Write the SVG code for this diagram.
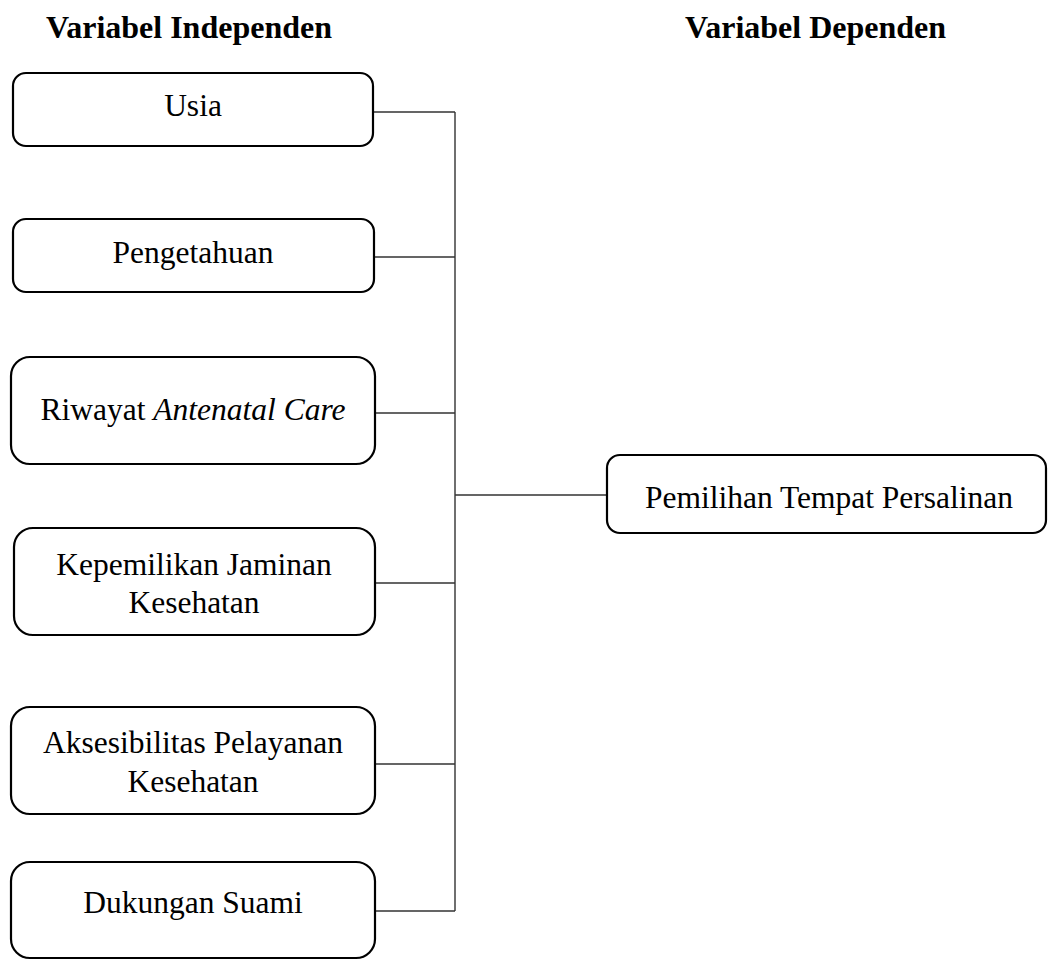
<svg xmlns="http://www.w3.org/2000/svg" width="1048" height="960" viewBox="0 0 1048 960">
<style>
.box{fill:#fff;stroke:#000;stroke-width:2.2}
.t{font-family:"Liberation Serif","Times New Roman",serif;font-size:31.5px;fill:#000;text-anchor:middle}
.h{font-family:"Liberation Serif","Times New Roman",serif;font-size:32px;font-weight:bold;fill:#000}
.c{fill:none;stroke:#333;stroke-width:1.4}
</style>
<rect width="1048" height="960" fill="#fff"/>
<text class="h" x="46" y="38">Variabel Independen</text>
<text class="h" x="685" y="38">Variabel Dependen</text>
<g id="connectors">
<path class="c" d="M374 112H455M374 257H455M375 413H455M375 583H455M375 764H455M375 911H455M455 112V911M455 495H607"/>
</g>
<g id="usia">
<rect class="box" x="13" y="73" width="360" height="73" rx="13"/>
<text class="t" x="193" y="116">Usia</text>
</g>
<g id="pengetahuan">
<rect class="box" x="13" y="219" width="361" height="73" rx="13"/>
<text class="t" x="193" y="263">Pengetahuan</text>
</g>
<g id="riwayat">
<rect class="box" x="11" y="357" width="364" height="107" rx="19"/>
<text class="t" x="193" y="420">Riwayat <tspan font-style="italic">Antenatal Care</tspan></text>
</g>
<g id="jaminan">
<rect class="box" x="14" y="528" width="361" height="107" rx="19"/>
<text class="t" x="194" y="575">Kepemilikan Jaminan</text>
<text class="t" x="194" y="613">Kesehatan</text>
</g>
<g id="aksesibilitas">
<rect class="box" x="11" y="707" width="364" height="107" rx="19"/>
<text class="t" x="193" y="753">Aksesibilitas Pelayanan</text>
<text class="t" x="193" y="792">Kesehatan</text>
</g>
<g id="dukungan">
<rect class="box" x="11" y="862" width="364" height="96" rx="19"/>
<text class="t" x="193" y="913">Dukungan Suami</text>
</g>
<g id="pemilihan">
<rect class="box" x="607" y="455" width="439" height="78" rx="13"/>
<text class="t" x="829" y="508">Pemilihan Tempat Persalinan</text>
</g>
</svg>
